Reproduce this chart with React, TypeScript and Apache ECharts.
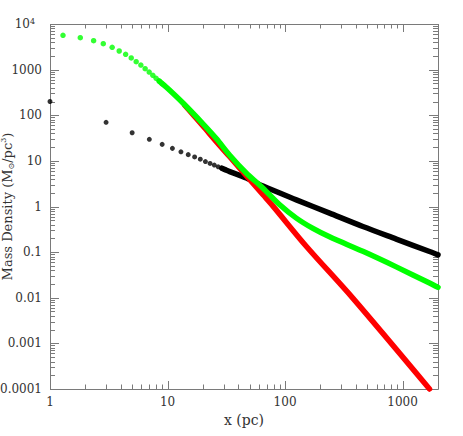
import React, { useEffect, useRef } from 'react';
import * as echarts from 'echarts';

// ---- data ----
const blackDotX = [1, 3, 5, 7, 9, 11, 13, 15, 17, 19, 21, 23, 25, 27, 29, 31];
const blackDotY = [200, 70, 41.3, 29.7, 23, 18.8, 15.8, 13.7, 12.2, 10.9, 9.65, 8.8, 8.1, 7.4, 6.9, 6.4];
const blackLineX = [29, 33.8, 46.9, 64.9, 124.7, 239, 459, 883, 1694, 2000];
const blackLineY = [6.9, 5.82, 4.2, 2.8, 1.4, 0.714, 0.364, 0.193, 0.103, 0.087];

const greenDotX = [1.29, 1.81, 2.35, 2.84, 3.38, 3.88, 4.4, 4.91, 5.41, 5.93, 6.45, 6.98, 7.5, 8.0, 8.5, 9.0];
const greenDotY = [5650, 5010, 4300, 3700, 3080, 2560, 2170, 1800, 1490, 1260, 1047, 885, 750, 644, 560, 490];
const greenLineX = [8.5, 10, 13.6, 20, 26.1, 33.8, 46.9, 64.9, 90, 124.7, 172.6, 239, 459, 883, 1694, 2000];
const greenLineY = [560, 390, 183, 65, 30.5, 13.3, 5.37, 2.52, 1.09, 0.556, 0.33, 0.216, 0.104, 0.0475, 0.021, 0.0169];

const redLineX = [14, 20, 26, 33.8, 41.1, 64.9, 78.9, 152, 377, 1694];
const redLineY = [166, 58, 26.3, 12.3, 6.9, 1.81, 1.02, 0.133, 0.0098, 0.0001];

const xTickLabels: Record<number, string> = { 0: '1', 1: '10', 2: '100', 3: '1000' };
const yTickLabels: Record<number, string> = {
  [-4]: '0.0001', [-3]: '0.001', [-2]: '0.01', [-1]: '0.1', 0: '1', 1: '10', 2: '100', 3: '1000', 4: '{b|10}{s|4}',
};

const FONT = '"DejaVu Serif", "Liberation Serif", serif';
const AXIS_COLOR = '#7a7a7a';
const TEXT_COLOR = '#333';

const zip = (xs: number[], ys: number[]) => xs.map((x, i) => [x, ys[i]]);

const decadeLabel = (map: Record<number, string>) => (v: number) => {
  const l = Math.log10(v);
  const k = Math.round(l);
  if (Math.abs(l - k) > 1e-6) return '';
  return map[k] ?? '';
};

export default function App() {
  const ref = useRef<HTMLDivElement>(null);
  useEffect(() => {
    if (!ref.current) return;
    const chart = echarts.init(ref.current, null, { renderer: 'svg' });
    const option: any = {
      animation: false,
      backgroundColor: '#ffffff',
      textStyle: { fontFamily: FONT },
      grid: { left: 50, right: 25, top: 24, bottom: 47, containLabel: false, outerBoundsMode: 'none' },
      xAxis: {
        type: 'log',
        logBase: 10,
        min: 1,
        max: 2000,
        splitNumber: 4,
        axisLine: { show: false },
        axisTick: { show: false },
        splitLine: { show: false },
        axisLabel: {
          formatter: decadeLabel(xTickLabels),
          color: TEXT_COLOR,
          fontSize: 12,
          fontFamily: FONT,
          margin: 7,
          interval: 0,
        },
        name: 'x (pc)',
        nameLocation: 'middle',
        nameGap: 24,
        nameMoveOverlap: false,
        nameTextStyle: { fontFamily: FONT, fontSize: 14, color: TEXT_COLOR },
      },
      yAxis: {
        type: 'log',
        logBase: 10,
        min: 0.0001,
        max: 10000,
        splitNumber: 8,
        axisLine: { show: false },
        axisTick: { show: false },
        splitLine: { show: false },
        axisLabel: {
          formatter: decadeLabel(yTickLabels),
          color: TEXT_COLOR,
          fontSize: 12,
          fontFamily: FONT,
          margin: 8,
          interval: 0,
          rich: {
            b: { fontSize: 12, fontFamily: FONT, color: TEXT_COLOR, lineHeight: 14 },
            s: { fontSize: 8, fontFamily: FONT, color: TEXT_COLOR, lineHeight: 8, verticalAlign: 'top', padding: [0, 7, 0, 0] },
          },
        },
        name: '{t|Mass Density (M}{sub|⊙}{t|/pc}{sup|3}{t|)}',
        nameLocation: 'middle',
        nameRotate: 90,
        nameGap: 35,
        nameMoveOverlap: false,
        nameTextStyle: {
          fontFamily: FONT,
          fontSize: 13,
          color: TEXT_COLOR,
          rich: {
            t: { fontFamily: FONT, fontSize: 13, color: TEXT_COLOR, lineHeight: 16 },
            sub: { fontFamily: FONT, fontSize: 8, color: TEXT_COLOR, lineHeight: 8, verticalAlign: 'bottom' },
            sup: { fontFamily: FONT, fontSize: 8, color: TEXT_COLOR, lineHeight: 8, verticalAlign: 'top' },
          },
        },
      },
      series: [
        {
          type: 'line', data: zip(blackLineX, blackLineY), symbol: 'none', clip: false, z: 2, smooth: 0.3,
          lineStyle: { color: '#000000', width: 5.5, cap: 'round', join: 'round' },
        },
        {
          type: 'scatter', data: zip(blackDotX, blackDotY), symbolSize: 5, clip: false, z: 2,
          itemStyle: { color: '#000000' },
        },
        {
          type: 'line', data: zip(redLineX, redLineY), symbol: 'none', clip: false, z: 3, smooth: 0.3,
          lineStyle: { color: '#ff0000', width: 5.5, cap: 'round', join: 'round' },
        },
        {
          type: 'line', data: zip(greenLineX, greenLineY), symbol: 'none', clip: false, z: 4, smooth: 0.3,
          lineStyle: { color: '#00ff00', width: 5.5, cap: 'round', join: 'round' },
        },
        {
          type: 'scatter', data: zip(greenDotX, greenDotY), symbolSize: 5.5, clip: false, z: 4,
          itemStyle: { color: '#00ff00' },
        },
      ],
    };
    chart.setOption(option);

    // frame and log ticks on all four sides, positioned through the axes' own scales
    const xp = (v: number) => chart.convertToPixel({ xAxisIndex: 0 }, v) as number;
    const yp = (v: number) => chart.convertToPixel({ yAxisIndex: 0 }, v) as number;
    const x0 = xp(1), x1 = xp(2000), y0 = yp(0.0001), y1 = yp(10000);
    const snap = (p: number) => Math.round(p) + 0.5;
    const els: any[] = [];
    const ln = (ax: number, ay: number, bx: number, by: number) =>
      els.push({
        type: 'line', silent: true, z: 0,
        shape: { x1: ax, y1: ay, x2: bx, y2: by },
        style: { stroke: AXIS_COLOR, lineWidth: 1 },
      });
    els.push({
      type: 'rect', silent: true, z: 0,
      shape: { x: snap(x0), y: snap(y1), width: Math.round(x1) - Math.round(x0), height: Math.round(y0) - Math.round(y1) },
      style: { fill: 'none', stroke: AXIS_COLOR, lineWidth: 1 },
    });
    for (let d = 0; d <= 3; d++) {
      for (let m = 1; m <= 9; m++) {
        const v = m * Math.pow(10, d);
        if (v > 2000) continue;
        const len = m === 1 ? 8 : 4.5;
        const px = snap(xp(v));
        ln(px, y0, px, y0 - len);
        ln(px, y1, px, y1 + len);
      }
    }
    for (let d = -4; d <= 4; d++) {
      for (let m = 1; m <= 9; m++) {
        const v = m * Math.pow(10, d);
        if (v > 10000 * 1.0001) continue;
        const len = m === 1 ? 9 : 5;
        const py = snap(yp(v));
        ln(x0, py, x0 + len, py);
        ln(x1, py, x1 - len, py);
      }
    }
    chart.setOption({ graphic: { elements: els } });

    return () => chart.dispose();
  }, []);
  return <div ref={ref} style={{ width: 463, height: 436, position: 'fixed', left: 0, top: 0 }} />;
}
